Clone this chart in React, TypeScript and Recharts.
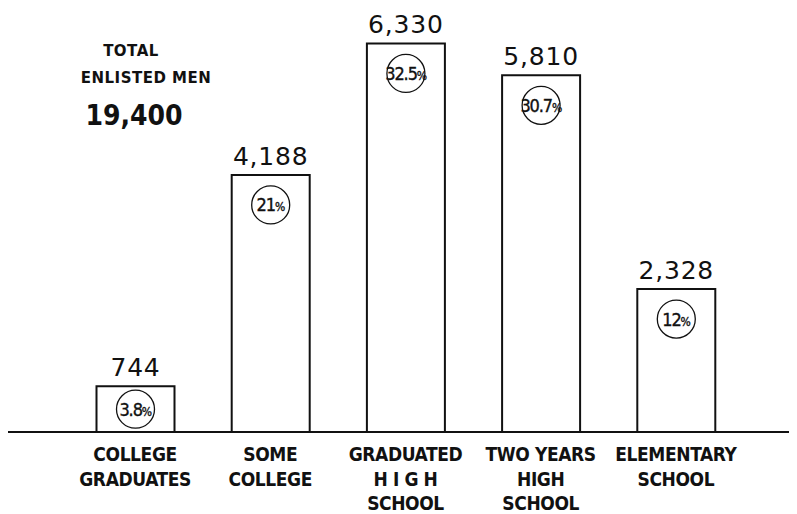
import React from "react";
import { BarChart, Bar, XAxis, YAxis, LabelList } from "recharts";

// Enlisted men by education level
const categories = [
  "COLLEGE\nGRADUATES",
  "SOME\nCOLLEGE",
  "GRADUATED\nH I G H\nSCHOOL",
  "TWO YEARS\nHIGH\nSCHOOL",
  "ELEMENTARY\nSCHOOL",
];
const counts = [744, 4188, 6330, 5810, 2328];
const percentValues = ["3.8", "21", "32.5", "30.7", "12"];
const totalLabel = "19,400";

const data = categories.map((name, i) => ({
  name,
  count: counts[i],
  pct: percentValues[i],
}));

const INK = "#111";
const WIDTH = 797;
const HEIGHT = 514;
const AXIS_HEIGHT = 82;
const condensed = "'DejaVu Sans Condensed', 'DejaVu Sans', sans-serif";
const plain = "'DejaVu Sans', sans-serif";

const CategoryTick = (props: any) => {
  const { x, y, payload } = props;
  const lines = String(payload.value).split("\n");
  return (
    <g>
      {lines.map((line: string, i: number) => (
        <text
          key={i}
          x={x}
          y={y + 29 + i * 24.5}
          textAnchor="middle"
          fontFamily={condensed}
          fontStretch="condensed"
          fontWeight="bold"
          fontSize={19}
          letterSpacing={-0.4}
          fill={INK}
        >
          {line}
        </text>
      ))}
    </g>
  );
};

// Circled percentage inside the top of each bar (centred in very short bars)
const PercentBadge = (props: any) => {
  const { x, y, width, height, value } = props;
  const cx = Number(x) + Number(width) / 2;
  const cy = Number(y) + Math.min(30, Number(height) / 2);
  return (
    <g>
      <circle cx={cx} cy={cy} r={19} fill="#fff" stroke={INK} strokeWidth={1.3} />
      <text
        x={cx}
        y={cy + 6.5}
        textAnchor="middle"
        fontFamily={condensed}
        fontStretch="condensed"
        fontSize={18}
        letterSpacing={-1.1}
        stroke={INK}
        strokeWidth={0.35}
        fill={INK}
      >
        {value}
        <tspan fontSize={12} letterSpacing={-0.5}>%</tspan>
      </text>
    </g>
  );
};

export default function App() {
  return (
    <div style={{ marginLeft: -8, marginTop: -8, position: "relative", width: WIDTH, height: HEIGHT, background: "#fff" }}>
      <BarChart
        width={WIDTH}
        height={HEIGHT}
        data={data}
        margin={{ top: 33, right: 0, bottom: 0, left: 0 }}
        barSize={78}
      >
        <XAxis
          dataKey="name"
          interval={0}
          height={AXIS_HEIGHT}
          padding={{ left: 67.5, right: 53.5 }}
          axisLine={false}
          tickLine={false}
          tickSize={0}
          tickMargin={0}
          tick={<CategoryTick />}
        />
        <YAxis hide domain={[0, 6500]} />
        {/* baseline running across the full page width */}
        <line
          x1={0}
          x2={WIDTH}
          y1={HEIGHT - AXIS_HEIGHT}
          y2={HEIGHT - AXIS_HEIGHT}
          stroke={INK}
          strokeWidth={2}
        />
        <Bar dataKey="count" fill="#fff" stroke={INK} strokeWidth={2} isAnimationActive={false}>
          <LabelList
            dataKey="count"
            position="top"
            offset={10}
            formatter={(v: any) => Number(v).toLocaleString("en-US")}
            fontFamily={plain}
            fontSize={25}
            letterSpacing={0.8}
            fill={INK}
          />
          <LabelList dataKey="pct" content={<PercentBadge />} />
        </Bar>
        <text x={131} y={56} textAnchor="middle" fontFamily={plain} fontWeight="bold" fontSize={15} letterSpacing={0.5} fill={INK}>
          TOTAL
        </text>
        <text x={146} y={83} textAnchor="middle" fontFamily={plain} fontWeight="bold" fontSize={15} letterSpacing={0.5} fill={INK}>
          ENLISTED MEN
        </text>
        <text x={134} y={125} textAnchor="middle" fontFamily={condensed} fontStretch="condensed" fontWeight="bold" fontSize={28} fill={INK}>
          {totalLabel}
        </text>
      </BarChart>
    </div>
  );
}
